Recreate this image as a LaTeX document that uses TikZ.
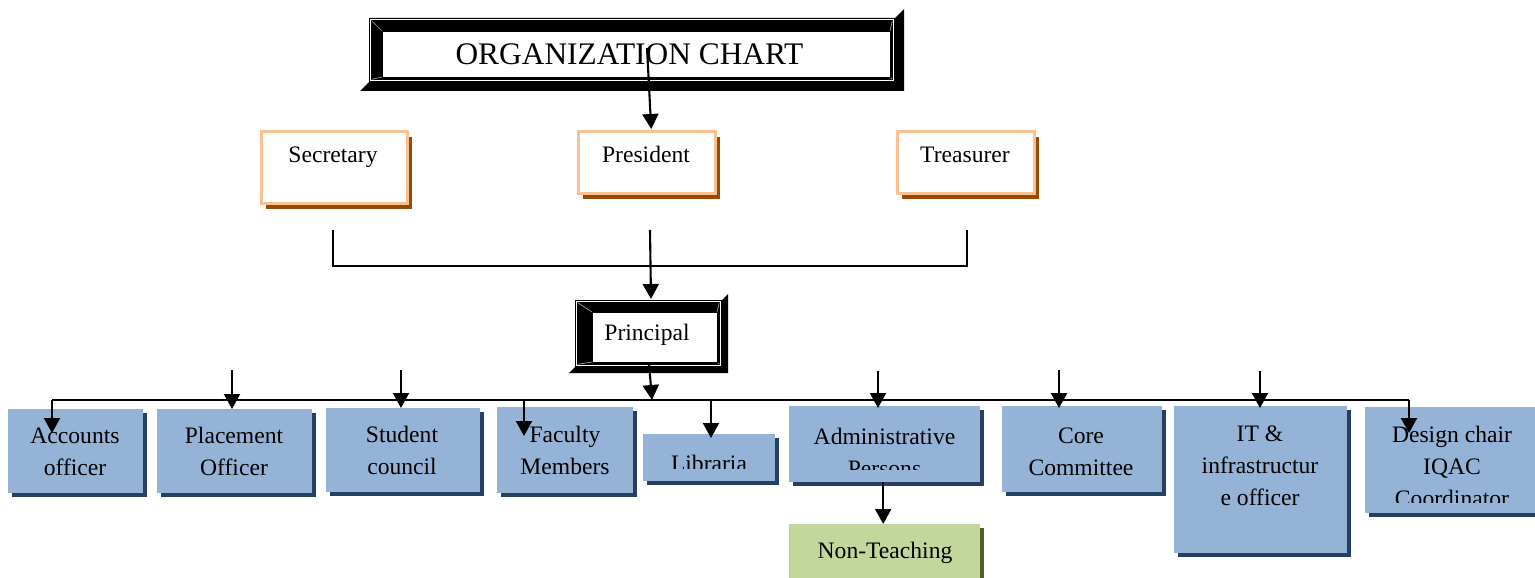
\documentclass[tikz,border=0pt]{standalone}
\usepackage{fontspec}
\setmainfont{Liberation Serif}
\usetikzlibrary{arrows.meta,shadows}
\definecolor{boxblue}{HTML}{95B3D7}
\definecolor{blueshadow}{HTML}{254061}
\definecolor{orangeedge}{HTML}{FAC090}
\definecolor{brownshadow}{HTML}{984807}
\definecolor{greenfill}{HTML}{C3D69B}
\definecolor{greenshadow}{HTML}{4F6228}

% bevel frame: x0 y0 x1 y1 left top right bottom spike
\newcommand\myBevel[9]{%
  \fill[black] (#1,#2) -- (#3,#2) -- ({#3+#9},{#2-#9}) -- ({#3+#9},{#4+#9}) -- ({#1-#9},{#4+#9}) -- (#1,#4) -- cycle;
  \fill[black] (#1,#2) rectangle (#3,#4);
  \draw[white,line width=0.9pt] ({#1+1.8},{#2+1.8}) rectangle ({#3-1.8},{#4-1.8});
  \draw[gray!75,line width=0.7pt] ({#1+2.7},{#2+2.7}) -- ({#1+#5},{#2+#6});
  \draw[gray!75,line width=0.7pt] ({#3-2.7},{#2+2.7}) -- ({#3-#7},{#2+#6});
  \draw[gray!75,line width=0.7pt] ({#1+2.7},{#4-2.7}) -- ({#1+#5},{#4-#8});
  \draw[gray!75,line width=0.7pt] ({#3-2.7},{#4-2.7}) -- ({#3-#7},{#4-#8});
  \filldraw[fill=white,draw=black,line width=0.8pt] ({#1+#5},{#2+#6}) rectangle ({#3-#7},{#4-#8});
}

\begin{document}
\begin{tikzpicture}[x=1pt,y=-1pt,
  bbox/.style={fill=boxblue,draw=none,inner sep=0pt,anchor=north west,
    drop shadow={shadow xshift=4pt,shadow yshift=-4pt,fill=blueshadow,opacity=1}},
  gbox/.style={fill=greenfill,draw=none,inner sep=0pt,anchor=north west,
    drop shadow={shadow xshift=4pt,shadow yshift=-4pt,fill=greenshadow,opacity=1}},
  obox/.style={fill=white,draw=orangeedge,line width=2.5pt,inner sep=0pt,anchor=north west,
    drop shadow={shadow xshift=5pt,shadow yshift=-6pt,fill=brownshadow,opacity=1}},
  txt/.style={font=\fontsize{23.6}{32}\selectfont,align=center,inner sep=0pt,anchor=base},
  ln/.style={line width=2.1pt},
  arr/.style={line width=2.1pt,-{Triangle[width=16pt,length=15pt]}}
]
\useasboundingbox (0,0) rectangle (1535,578);
\clip (0,0) rectangle (1535,578);
\fill[white] (0,0) rectangle (1535,578);

% title
\myBevel{369}{18}{895}{82}{13}{13}{5}{5}{9}
\node[font=\fontsize{31.4}{36}\selectfont,inner sep=0pt,anchor=base] (title) at (629.5,65) {ORGANIZATION CHART};

% top boxes
\node[obox,minimum width=146pt,minimum height=72pt] (sec) at (260,130) {};
\node[obox,minimum width=137pt,minimum height=62pt] (pres) at (577,130) {};
\node[obox,minimum width=137pt,minimum height=62pt] (tre) at (896,130) {};
\node[txt] (secT) at (333,162) {Secretary};
\node[txt] (presT) at (646,162) {President};
\node[txt] (treT) at (965,162) {Treasurer};

% principal
\myBevel{575}{300}{722}{367}{17}{12}{5}{5}{6}
\node[txt] (prin) at (647,340) {Principal};

% bottom boxes
\node[bbox,minimum width=135pt,minimum height=84pt] (acc) at (8,409) {};
\node[bbox,minimum width=155pt,minimum height=84pt] (plc) at (157,409) {};
\node[bbox,minimum width=154pt,minimum height=84pt] (stu) at (326,408) {};
\node[bbox,minimum width=136pt,minimum height=86pt] (fac) at (497,407) {};
\node[bbox,minimum width=132pt,minimum height=47pt] (lib) at (643,434) {};
\node[bbox,minimum width=191pt,minimum height=76pt] (adm) at (789,406) {};
\node[gbox,minimum width=191pt,minimum height=70pt] (non) at (789,524) {};
\node[bbox,minimum width=160pt,minimum height=86pt] (core) at (1002,406) {};
\node[bbox,minimum width=173pt,minimum height=147pt] (it) at (1174,406) {};
\node[bbox,minimum width=180pt,minimum height=106pt] (des) at (1365,407) {};

% multi-line nodes: base anchor = baseline of last line
\node[txt] (accT) at (75,475) {Accounts\\officer};
\node[txt] (plcT) at (234,475) {Placement\\Officer};
\node[txt] (stuT) at (402,474) {Student\\council};
\node[txt] (facT) at (565,474) {Faculty\\Members};
\begin{scope}
  \clip (643,434) rectangle (775,468);
  \node[txt] (libT) at (709,471) {Libraria};
\end{scope}
\begin{scope}
  \clip (789,406) rectangle (980,469);
  \node[txt] (admT) at (884.5,476) {Administrative\\Persons};
\end{scope}
\node[txt] (nonT) at (885,558) {Non-Teaching};
\node[txt] (coreT) at (1081,475) {Core\\Committee};
\node[txt] (itT) at (1260,505) {IT \&\\infrastructur\\e officer};
\begin{scope}
  \clip (1365,407) rectangle (1535,502);
  \node[txt] (desT) at (1452,506) {Design chair\\IQAC\\Coordinator};
\end{scope}

% connectors
\coordinate (tstart) at (647,48);
\draw[arr] (tstart) -- ([xshift=4.5pt,yshift=1pt]pres.north);

\coordinate (secdrop) at (333,230);
\coordinate (tredrop) at (967,230);
\draw[ln] (secdrop) -- ++(0,36) -| (tredrop);

\coordinate (presdrop) at (650,230);
\coordinate (printop) at (651,299);
\draw[arr] (presdrop) -- (printop);

\coordinate (prinbot) at (649,363);
\coordinate (busM) at (652,400);
\draw[arr] (prinbot) -- (busM);

\coordinate (busL) at (52,400);
\coordinate (busR) at (1409,400);
\draw[ln] (busL) -- (busR);
\draw[arr] (busL) -- ++(0,33);
\draw[arr] (busR) -- ++(0,33);
\coordinate (busF) at (524,400);
\draw[arr] (busF) -- ++(0,36);
\coordinate (busLib) at (711,400);
\draw[arr] (busLib) -- ++(0,38);

\coordinate (plcIn) at (232,370);
\draw[arr] (plcIn) -- (plcIn |- plc.north);
\coordinate (stuIn) at (401,370);
\draw[arr] (stuIn) -- (stuIn |- stu.north);
\coordinate (admIn) at (878,371);
\draw[arr] (admIn) -- ([yshift=-2pt]admIn |- adm.north);
\coordinate (coreIn) at (1059,370);
\draw[arr] (coreIn) -- ([yshift=-2pt]coreIn |- core.north);
\coordinate (itIn) at (1260,371);
\draw[arr] (itIn) -- ([yshift=-2pt]itIn |- it.north);

\draw[arr] ([xshift=-1.5pt]adm.south) -- ([xshift=-1.5pt]non.north);
\end{tikzpicture}
\end{document}
